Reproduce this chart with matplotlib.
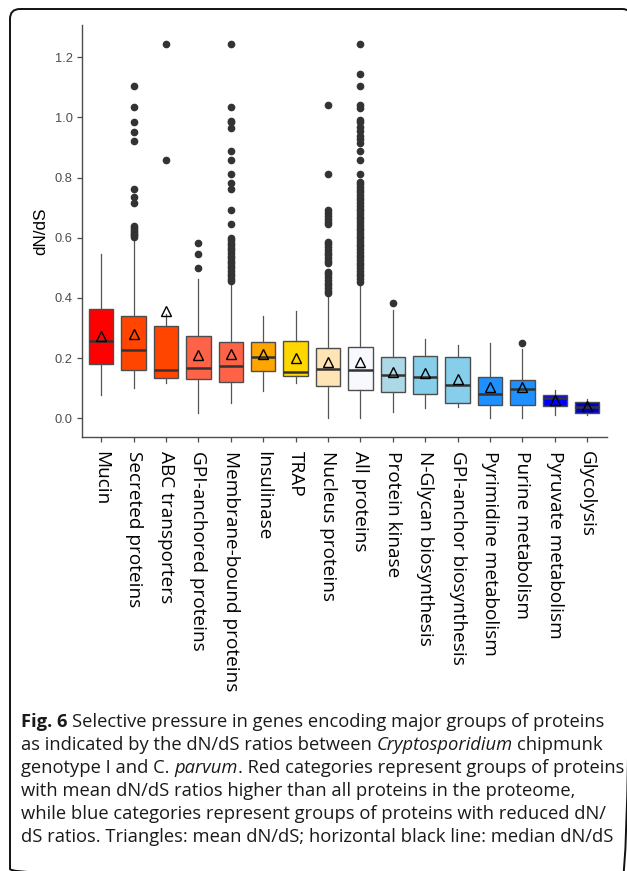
import matplotlib
matplotlib.use("Agg")
import matplotlib.pyplot as plt
from matplotlib.patches import FancyBboxPatch

categories = ["Mucin", "Secreted proteins", "ABC transporters", "GPI-anchored proteins",
              "Membrane-bound proteins", "Insulinase", "TRAP", "Nucleus proteins",
              "All proteins", "Protein kinase", "N-Glycan biosynthesis",
              "GPI-anchor biosynthesis", "Pyrimidine metabolism", "Purine metabolism",
              "Pyruvate metabolism", "Glycolysis"]
colors = ["#FF0000", "#FF4500", "#FF4500", "#FF6347", "#FF6347", "#FFA500", "#FFD700",
          "#FFE4B5", "#F8F8FF", "#ADD8E6", "#87CEEB", "#87CEEB", "#1E90FF", "#1E90FF",
          "#0000FF", "#0000CD"]

q1 = [0.181, 0.161, 0.135, 0.132, 0.121, 0.157, 0.142, 0.108, 0.094, 0.086, 0.082, 0.051,
      0.043, 0.043, 0.040, 0.017]
medians = [0.256, 0.228, 0.161, 0.167, 0.172, 0.204, 0.154, 0.164, 0.161, 0.145, 0.137,
           0.110, 0.080, 0.096, 0.068, 0.037]
q3 = [0.364, 0.340, 0.307, 0.274, 0.253, 0.253, 0.256, 0.234, 0.238, 0.202, 0.208, 0.202,
      0.138, 0.128, 0.077, 0.054]
whis_lo = [0.076, 0.100, 0.116, 0.017, 0.052, 0.092, 0.116, 0.002, 0.002, 0.022, 0.033,
           0.038, 0.002, 0.002, 0.012, 0.011]
whis_hi = [0.546, 0.600, 0.345, 0.462, 0.449, 0.339, 0.357, 0.405, 0.443, 0.360, 0.262,
           0.244, 0.251, 0.231, 0.094, 0.065]
means = [0.275, 0.281, 0.358, 0.210, 0.215, 0.212, 0.199, 0.188, 0.187, 0.155, 0.150,
         0.130, 0.105, 0.103, 0.061, 0.039]

out_mucin = []
out_secreted = [1.105, 1.035, 0.984, 0.951, 0.921, 0.762, 0.737, 0.715, 0.640, 0.632,
                0.625, 0.620, 0.614, 0.609, 0.604]
out_abc = [1.244, 0.860]
out_gpi_anch = [0.583, 0.545, 0.499]
out_membrane = [1.244, 1.035, 0.989, 0.984, 0.964, 0.889, 0.860, 0.812, 0.781, 0.761,
                0.692, 0.645, 0.600, 0.592, 0.583, 0.575, 0.566, 0.558, 0.549, 0.541,
                0.532, 0.524, 0.515, 0.507, 0.498, 0.490, 0.481, 0.473, 0.464, 0.456]
out_insulinase = []
out_trap = []
out_nucleus = [1.042, 0.812, 0.692, 0.683, 0.672, 0.663, 0.653, 0.645, 0.587, 0.578,
               0.569, 0.560, 0.551, 0.542, 0.533, 0.524, 0.515, 0.487, 0.478, 0.469,
               0.460, 0.451, 0.442, 0.433, 0.424, 0.415]
out_all = [1.244, 1.145, 1.104, 1.040, 1.030, 0.990, 0.984, 0.968, 0.955, 0.940, 0.928,
           0.914, 0.889, 0.860, 0.812, 0.786, 0.778, 0.769, 0.760, 0.751, 0.742, 0.733,
           0.724, 0.715, 0.706, 0.697, 0.688, 0.679, 0.670, 0.661, 0.652, 0.643, 0.634,
           0.625, 0.616, 0.607, 0.598, 0.589, 0.580, 0.571, 0.562, 0.553, 0.544, 0.535,
           0.526, 0.517, 0.508, 0.499, 0.490, 0.481, 0.472, 0.463, 0.454]
out_kinase = [0.382]
out_nglycan = []
out_gpi_bio = []
out_pyrimidine = []
out_purine = [0.250]
out_pyruvate = []
out_glycolysis = []
outliers = [out_mucin, out_secreted, out_abc, out_gpi_anch, out_membrane, out_insulinase,
            out_trap, out_nucleus, out_all, out_kinase, out_nglycan, out_gpi_bio,
            out_pyrimidine, out_purine, out_pyruvate, out_glycolysis]

yticks = [0.0, 0.2, 0.4, 0.6, 0.8, 1.0, 1.2]
ylabel = "dN/dS"

W, H = 627, 871
fig = plt.figure(figsize=(W / 100, H / 100), dpi=100)

# background frame
bg = fig.add_axes([0, 0, 1, 1], zorder=-5)
bg.set_xlim(0, W)
bg.set_ylim(H, 0)
bg.axis("off")
bg.add_patch(FancyBboxPatch((10, 9), 622, 870, boxstyle="round,pad=0,rounding_size=10",
                            fill=False, edgecolor="#111111", linewidth=1.4, clip_on=False))

ax = fig.add_axes([81.7 / W, 1 - 436.7 / H, (606.7 - 81.7) / W, (436.7 - 25) / H])

stats = []
for i in range(len(categories)):
    stats.append(dict(med=medians[i], q1=q1[i], q3=q3[i], whislo=whis_lo[i],
                      whishi=whis_hi[i], fliers=outliers[i], mean=means[i],
                      label=categories[i]))

gray = "#333333"
bp = ax.bxp(stats, positions=range(1, len(categories) + 1), widths=0.75,
            patch_artist=True, showmeans=True, showcaps=False,
            boxprops=dict(edgecolor="#4d4d4d", linewidth=1.0),
            medianprops=dict(color=gray, linewidth=1.8),
            whiskerprops=dict(color="#555555", linewidth=0.9),
            flierprops=dict(marker="o", markerfacecolor=gray, markeredgecolor=gray,
                            markersize=4.5, linestyle="none"),
            meanprops=dict(marker="^", markerfacecolor="none", markeredgecolor="black",
                           markersize=7.5, markeredgewidth=1.0))
for patch, c in zip(bp["boxes"], colors):
    patch.set_facecolor(c)

ax.set_xlim(0.4, len(categories) + 0.6)
ax.set_ylim(-0.0615, 1.3075)
ax.set_yticks(yticks)
ax.set_yticklabels([f"{v:.1f}" for v in yticks], fontfamily="Liberation Sans",
                   fontsize=9.3, color="#4d4d4d")
ax.set_xticks(range(1, len(categories) + 1))
ax.set_xticklabels(categories, rotation=-90, fontfamily="Open Sans", fontsize=13.7,
                   color="black", va="top", ha="center")
ax.tick_params(axis="both", length=3.5, width=0.9, color="#4d4d4d")
ax.tick_params(axis="x", pad=7)
ax.tick_params(axis="y", pad=3)
for s in ["top", "right"]:
    ax.spines[s].set_visible(False)
for s in ["left", "bottom"]:
    ax.spines[s].set_color("#4d4d4d")
    ax.spines[s].set_linewidth(1.0)
ax.set_ylabel(ylabel, fontfamily="Liberation Sans", fontsize=12.3, color="black")
ax.yaxis.set_label_coords((48 - 81.7) / (606.7 - 81.7), 0.5)

# caption
cap_lines = [
    [("Fig. 6", "bold", "normal"), (" Selective pressure in genes encoding major groups of proteins", "normal", "normal")],
    [("as indicated by the dN/dS ratios between ", "normal", "normal"), ("Cryptosporidium", "normal", "italic"), (" chipmunk", "normal", "normal")],
    [("genotype I and C. ", "normal", "normal"), ("parvum", "normal", "italic"), (". Red categories represent groups of proteins", "normal", "normal")],
    [("with mean dN/dS ratios higher than all proteins in the proteome,", "normal", "normal")],
    [("while blue categories represent groups of proteins with reduced dN/", "normal", "normal")],
    [("dS ratios. Triangles: mean dN/dS; horizontal black line: median dN/dS", "normal", "normal")],
]
cap_fs = 13.2
renderer = fig.canvas.get_renderer()


def text_w(s, weight, style):
    t = bg.text(0, 0, s, fontfamily="Open Sans", fontsize=cap_fs, fontweight=weight,
                fontstyle=style)
    w = t.get_window_extent(renderer).width
    t.remove()
    return w


space_w = text_w("a a", "normal", "normal") - text_w("aa", "normal", "normal")
y0 = 722
for li, pieces in enumerate(cap_lines):
    x = 21
    y = y0 + li * 23
    for s, weight, style in pieces:
        lead = len(s) - len(s.lstrip(" "))
        trail = len(s) - len(s.rstrip(" "))
        x += lead * space_w
        core = s.strip(" ")
        bg.text(x, y, core, fontfamily="Open Sans", fontsize=cap_fs, fontweight=weight,
                fontstyle=style, va="center", ha="left", color="#1a1a1a")
        x += text_w(core, weight, style) + trail * space_w

fig.savefig("out.png", dpi=100)
